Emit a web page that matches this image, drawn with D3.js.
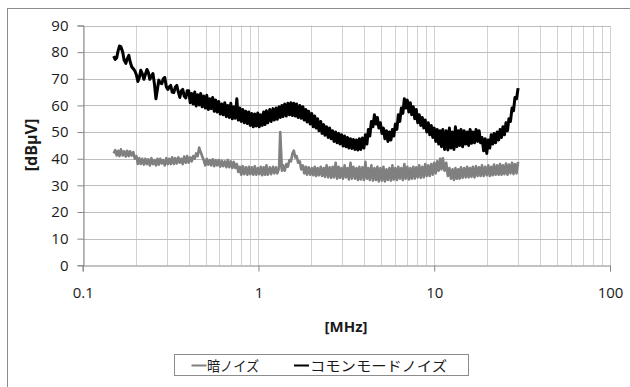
<!DOCTYPE html>
<html><head><meta charset="utf-8">
<script src="https://cdn.jsdelivr.net/npm/d3@7"></script>
<style>
html,body{margin:0;padding:0;background:#fff;overflow:hidden}
svg{display:block}
</style></head>
<body>
<svg id="chart" width="630" height="387"></svg>
<script>
// ---- data ----
const freqMHz = [
0.150,0.153,0.156,0.159,0.162,0.165,0.169,0.172,0.176,0.179,
0.183,0.186,0.190,0.194,0.198,0.202,0.206,0.210,0.214,0.218,
0.223,0.227,0.232,0.236,0.241,0.246,0.251,0.256,0.261,0.266,
0.271,0.276,0.282,0.287,0.293,0.299,0.305,0.311,0.317,0.323,
0.330,0.336,0.343,0.350,0.357,0.364,0.371,0.378,0.386,0.393,
0.401,0.409,0.417,0.425,0.434,0.442,0.451,0.460,0.469,0.478,
0.488,0.498,0.508,0.518,0.528,0.538,0.549,0.560,0.571,0.582,
0.594,0.606,0.618,0.630,0.643,0.656,0.669,0.682,0.696,0.710,
0.724,0.738,0.753,0.768,0.783,0.798,0.814,0.830,0.847,0.864,
0.881,0.898,0.916,0.934,0.953,0.972,0.991,1.01,1.03,1.05,
1.07,1.09,1.11,1.13,1.16,1.18,1.21,1.23,1.26,1.28,
1.31,1.33,1.36,1.38,1.41,1.44,1.47,1.50,1.53,1.56,
1.59,1.62,1.65,1.68,1.72,1.75,1.79,1.82,1.86,1.89,
1.93,1.97,2.01,2.05,2.09,2.13,2.17,2.21,2.26,2.30,
2.35,2.39,2.44,2.49,2.54,2.59,2.64,2.69,2.75,2.80,
2.86,2.91,2.97,3.03,3.09,3.15,3.21,3.27,3.34,3.40,
3.47,3.54,3.61,3.68,3.75,3.82,3.90,3.98,4.06,4.14,
4.22,4.30,4.39,4.48,4.57,4.66,4.75,4.84,4.94,5.04,
5.14,5.24,5.35,5.45,5.56,5.67,5.78,5.89,6.01,6.13,
6.25,6.37,6.50,6.63,6.76,6.89,7.03,7.17,7.31,7.45,
7.60,7.75,7.90,8.06,8.22,8.38,8.55,8.72,8.89,9.07,
9.25,9.43,9.62,9.81,10.0,10.2,10.4,10.6,10.8,11.0,
11.2,11.45,11.7,11.95,12.2,12.45,12.7,12.95,13.2,13.45,
13.7,13.95,14.2,14.5,14.8,15.1,15.4,15.7,16.0,16.3,
16.6,16.95,17.3,17.65,18.0,18.35,18.7,19.1,19.5,19.9,
20.3,20.7,21.1,21.5,21.9,22.35,22.8,23.25,23.7,24.15,
24.6,25.1,25.6,26.1,26.6,27.15,27.7,28.25,28.8,29.4,30.0];

const darkNoise = [
42.0,43.2,41.2,43.0,41.0,43.5,41.2,42.8,40.8,43.0,
41.0,42.8,41.2,42.5,40.0,41.0,38.0,40.2,38.0,40.0,
37.8,40.0,38.0,39.8,37.5,40.2,38.0,39.5,37.5,40.0,
37.8,40.0,38.2,39.5,37.5,40.2,38.0,40.0,38.0,40.5,
38.0,40.2,38.2,40.5,38.5,40.0,38.0,40.8,38.5,41.0,
38.5,40.5,39.0,41.0,40.0,42.0,41.0,44.2,42.5,41.0,
39.5,37.5,40.0,37.8,39.5,37.5,39.8,37.2,39.5,37.5,
39.5,37.0,39.2,37.2,39.0,36.8,39.5,36.8,39.0,36.5,
38.8,36.5,38.0,35.0,37.0,34.0,37.2,34.2,36.8,34.0,
37.0,34.2,36.8,34.0,37.2,34.0,36.5,34.2,37.0,33.8,
36.8,34.0,37.5,34.0,36.8,34.2,37.0,34.5,36.8,34.5,
36.5,50.0,35.5,37.5,35.5,38.0,37.0,39.5,39.0,42.0,
43.0,40.5,41.0,38.5,39.0,36.0,37.5,34.5,37.0,34.0,
36.8,34.0,36.5,33.8,37.0,33.5,36.5,33.8,37.0,33.5,
36.5,33.2,37.5,33.0,36.8,32.8,37.0,33.0,38.5,32.5,
37.0,32.8,36.5,32.5,37.5,33.0,36.5,32.2,38.5,32.5,
37.0,32.5,36.5,32.0,37.0,32.2,36.8,32.0,38.8,32.5,
36.5,32.0,37.5,31.8,36.5,32.0,37.0,31.5,36.5,31.8,
37.0,31.5,36.0,32.0,36.5,31.8,37.5,32.2,36.5,32.0,
37.0,32.5,36.5,32.0,38.0,32.5,37.0,32.2,36.5,32.5,
37.0,32.5,36.8,33.0,37.5,32.8,37.0,33.0,38.0,33.5,
37.5,33.5,38.0,34.0,38.5,34.5,39.0,35.5,40.0,36.0,
40.2,35.5,38.5,33.5,36.5,32.5,36.0,32.0,36.5,32.5,
36.0,32.5,36.8,32.8,36.5,33.0,37.0,33.0,36.5,33.2,
37.0,33.0,37.2,33.5,36.8,33.5,37.5,33.5,37.0,33.8,
37.5,33.5,37.0,33.8,37.8,34.0,37.5,34.0,38.0,34.0,
37.5,34.2,38.2,34.0,37.8,34.5,38.5,34.2,38.0,34.5,38.8];

const commonModeNoise = [
78.5,77.3,77.8,80.5,82.3,82.0,80.0,77.0,75.8,77.5,
78.8,76.5,74.5,73.8,73.0,71.5,69.0,70.5,73.2,72.0,
69.8,71.5,73.5,72.5,69.8,71.0,72.0,68.0,62.5,66.0,
69.5,68.5,68.2,70.0,70.5,67.0,66.0,67.0,67.5,65.0,
64.8,66.8,67.5,65.0,63.0,65.5,66.0,63.5,62.8,65.5,
65.5,61.0,64.5,60.5,65.0,59.8,64.0,60.2,64.5,59.5,
63.5,59.0,63.8,58.5,62.5,58.8,63.0,57.8,62.0,57.5,
61.5,56.8,60.5,56.5,61.0,55.8,60.0,55.5,60.8,55.0,
59.5,55.2,62.5,54.5,59.0,54.0,58.5,53.5,57.8,53.2,
57.5,52.5,57.0,52.0,56.8,52.3,57.2,52.0,56.5,52.5,
57.5,52.8,58.0,53.5,58.5,54.0,58.8,54.5,59.0,54.8,
59.5,55.5,60.0,55.8,60.5,56.0,60.8,56.5,61.0,56.2,
60.8,56.0,60.5,55.5,60.0,55.2,59.5,54.5,58.5,53.8,
57.8,53.0,57.0,52.0,56.0,51.5,55.0,50.5,54.0,49.5,
52.8,48.8,52.0,48.0,51.5,47.5,50.5,46.5,50.0,46.0,
49.5,45.5,49.0,44.8,48.5,44.5,48.0,44.0,47.5,43.8,
47.2,43.5,47.0,43.3,47.5,43.5,47.8,44.0,49.0,45.5,
51.0,48.5,54.0,52.0,56.5,53.0,55.5,51.5,53.5,49.5,
51.5,47.5,50.5,46.5,50.0,47.0,51.0,48.5,53.0,51.0,
56.5,54.0,59.0,57.0,62.5,59.0,62.0,57.5,61.0,56.5,
59.5,55.0,58.5,53.5,56.5,52.5,55.5,51.5,54.5,50.0,
53.5,49.0,52.5,48.0,51.5,46.5,51.0,45.5,50.5,44.5,
51.0,43.5,50.5,43.3,51.5,44.0,50.0,43.5,52.0,44.5,
50.5,45.0,51.0,44.5,50.5,45.5,50.0,45.0,51.0,45.8,
50.0,46.0,51.0,46.5,50.5,46.0,48.0,43.0,47.5,42.0,
47.0,44.0,49.0,45.5,49.5,46.0,50.0,47.0,51.0,48.0,
52.0,49.0,53.5,50.5,55.0,54.0,59.0,58.0,63.0,62.5,66.5];

const yTicks = [0,10,20,30,40,50,60,70,80,90];
const xTickValues = [0.1,1,10,100];
const xTickLabels = ["0.1","1","10","100"];
const seriesNames = ["暗ノイズ","コモンモードノイズ"];
const seriesColors = ["#808080","#000000"];
const yTitle = "[dBμV]";
const xTitle = "[MHz]";

// ---- drawing ----
const svg = d3.select("#chart");
const L = 82.7, R = 610, T = 25.5, B = 265.3;
const x = d3.scaleLog().domain([0.1,100]).range([L,R]);
const y = d3.scaleLinear().domain([0,90]).range([B,T]);
const font = "'Open Sans', 'Noto Sans', sans-serif";

// outer frame
svg.append("rect").attr("x",7.5).attr("y",8.5).attr("width",700).attr("height",450)
  .attr("fill","#fff").attr("stroke","#8c8c8c").attr("stroke-width",1);

// vertical grid (log minor)
svg.append("g").selectAll("line").data(x.ticks()).join("line")
  .attr("x1",d=>Math.round(x(d))+0.5).attr("x2",d=>Math.round(x(d))+0.5)
  .attr("y1",T).attr("y2",B)
  .attr("stroke","#d2d2d2").attr("stroke-width",1);

// horizontal grid
svg.append("g").selectAll("line").data(yTicks.filter(d=>d>0)).join("line")
  .attr("x1",L).attr("x2",R)
  .attr("y1",d=>Math.round(y(d))+0.5).attr("y2",d=>Math.round(y(d))+0.5)
  .attr("stroke","#bdbdbd").attr("stroke-width",1);

// y axis
const yAxis = svg.append("g").attr("transform",`translate(${Math.round(L)+0.5},0)`)
  .call(d3.axisLeft(y).tickValues(yTicks).tickSize(6).tickPadding(9).tickFormat(d3.format("d")));
yAxis.select(".domain").attr("stroke","#868686");
yAxis.selectAll(".tick line").attr("stroke","#868686");
yAxis.selectAll(".tick text").attr("font-family",font).attr("font-size","15px").attr("fill","#1a1a1a");

// x axis
const xAxis = svg.append("g").attr("transform",`translate(0,${Math.round(B)+0.5})`)
  .call(d3.axisBottom(x).tickValues(xTickValues).tickSize(6).tickPadding(16)
    .tickFormat((d,i)=>xTickLabels[i]));
xAxis.select(".domain").attr("stroke","#868686");
xAxis.selectAll(".tick line").attr("stroke","#868686");
xAxis.selectAll(".tick text").attr("font-family",font).attr("font-size","15px").attr("fill","#1a1a1a");

// series
const line = d3.line().x((d,i)=>x(freqMHz[i])).y(d=>y(d)).curve(d3.curveLinear);
svg.append("path").datum(darkNoise).attr("d",line)
  .attr("fill","none").attr("stroke",seriesColors[0]).attr("stroke-width",2.6).attr("stroke-linejoin","round");
svg.append("path").datum(commonModeNoise).attr("d",line)
  .attr("fill","none").attr("stroke",seriesColors[1]).attr("stroke-width",3.0).attr("stroke-linejoin","round");

// axis titles
svg.append("text").attr("transform","translate(37,145) rotate(-90)")
  .attr("text-anchor","middle").attr("font-family",font).attr("font-weight","bold")
  .attr("font-size","16px").attr("fill","#1a1a1a").text(yTitle);
svg.append("text").attr("x",346).attr("y",332)
  .attr("text-anchor","middle").attr("font-family",font).attr("font-weight","bold")
  .attr("font-size","15px").attr("fill","#1a1a1a").text(xTitle);

// legend
svg.append("rect").attr("x",174.5).attr("y",354.5).attr("width",294).attr("height",21)
  .attr("fill","#fff").attr("stroke","#8c8c8c");
const legItems = [{x0:191.5,tx:207,w:52},{x0:294,tx:310,w:137}];
legItems.forEach((it,i)=>{
  svg.append("line").attr("x1",it.x0).attr("x2",it.x0+15).attr("y1",365.5).attr("y2",365.5)
    .attr("stroke",seriesColors[i]).attr("stroke-width",2);
  svg.append("text").attr("x",it.tx).attr("y",370.5)
    .attr("font-family","'Noto Sans CJK JP', sans-serif").attr("font-size","14px").attr("fill","#1a1a1a")
    .attr("textLength",it.w).attr("lengthAdjust","spacingAndGlyphs")
    .text(seriesNames[i]);
});
</script>
</body></html>
